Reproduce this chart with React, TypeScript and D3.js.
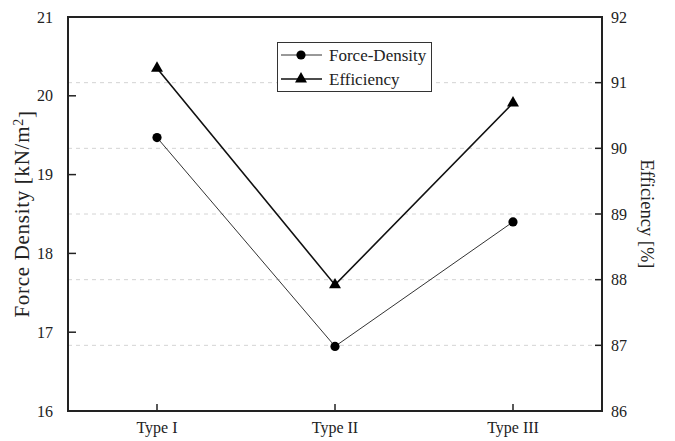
import React from "react";
import * as d3 from "d3";

const categories = ["Type I", "Type II", "Type III"];
const forceDensity = [19.47, 16.82, 18.4];
const efficiency = [91.22, 87.92, 90.69];
const leftTicks = [16, 17, 18, 19, 20, 21];
const rightTicks = [86, 87, 88, 89, 90, 91, 92];

const W = 675, H = 441;
const M = { left: 68, right: 602, top: 17, bottom: 411 };
const FONT = "'Liberation Serif', 'Times New Roman', serif";

export default function App() {
  const x = d3.scalePoint<string>().domain(categories).range([M.left, M.right]).padding(0.5);
  const yL = d3.scaleLinear().domain([16, 21]).range([M.bottom, M.top]);
  const yR = d3.scaleLinear().domain([86, 92]).range([M.bottom, M.top]);

  const lineFD = d3.line<number>().x((_, i) => x(categories[i])!).y((d) => yL(d));
  const lineEff = d3.line<number>().x((_, i) => x(categories[i])!).y((d) => yR(d));
  const tri = d3.symbol().type(d3.symbolTriangle).size(62)();

  return (
    <svg width={W} height={H} style={{ position: "absolute", left: 0, top: 0, background: "#fff" }} fontFamily={FONT}>
      <rect x={0} y={0} width={W} height={H} fill="#fff" />
      {/* gridlines */}
      {rightTicks.slice(1, -1).map((t) => (
        <line key={"g" + t} x1={M.left} x2={M.right} y1={yR(t)} y2={yR(t)} stroke="#d4d4d4" strokeWidth={1} strokeDasharray="4,4" />
      ))}
      {/* left ticks */}
      {leftTicks.map((t) => (
        <g key={"l" + t}>
          {t > 16 && t < 21 && <line x1={M.left} x2={M.left + 8} y1={yL(t)} y2={yL(t)} stroke="#222" strokeWidth={1.5} />}
          <text x={53} y={yL(t)} dy="0.35em" textAnchor="end" fontSize={16} fill="#222">{t}</text>
        </g>
      ))}
      {/* right ticks */}
      {rightTicks.map((t) => (
        <g key={"r" + t}>
          {t > 86 && t < 92 && <line x1={M.right - 7} x2={M.right} y1={yR(t)} y2={yR(t)} stroke="#222" strokeWidth={1.5} />}
          <text x={611} y={yR(t)} dy="0.35em" textAnchor="start" fontSize={16} fill="#222">{t}</text>
        </g>
      ))}
      {/* bottom ticks */}
      {categories.map((c) => (
        <g key={"b" + c}>
          <line x1={x(c)!} x2={x(c)!} y1={M.bottom} y2={M.bottom - 7} stroke="#222" strokeWidth={1.5} />
          <text x={x(c)!} y={433} textAnchor="middle" fontSize={16} fill="#222">{c}</text>
        </g>
      ))}
      {/* frame */}
      <rect x={M.left} y={M.top} width={M.right - M.left} height={M.bottom - M.top} fill="none" stroke="#222" strokeWidth={2} />
      {/* axis titles */}
      <text transform={`translate(22,${(M.top + M.bottom) / 2}) rotate(-90)`} dy="0.35em" textAnchor="middle" fontSize={21} letterSpacing={0.7} fill="#222">
        Force Density [kN/m<tspan dy="-0.45em" fontSize={14}>2</tspan><tspan dy="0.45em">]</tspan>
      </text>
      <text transform={`translate(647,${(M.top + M.bottom) / 2}) rotate(90)`} dy="0.35em" textAnchor="middle" fontSize={18.5} fill="#222">
        Efficiency [%]
      </text>
      {/* series */}
      <path d={lineFD(forceDensity)!} fill="none" stroke="#333" strokeWidth={1} />
      <path d={lineEff(efficiency)!} fill="none" stroke="#111" strokeWidth={1.6} />
      {forceDensity.map((v, i) => (
        <circle key={"c" + i} cx={x(categories[i])!} cy={yL(v)} r={4.6} fill="#000" />
      ))}
      {efficiency.map((v, i) => (
        <path key={"t" + i} d={tri!} transform={`translate(${x(categories[i])!},${yR(v)})`} fill="#000" />
      ))}
      {/* legend */}
      <g>
        <rect x={277.5} y={42.5} width={154} height={49} fill="#fff" stroke="#333" strokeWidth={1} />
        <line x1={281} x2={322} y1={55} y2={55} stroke="#333" strokeWidth={1} />
        <circle cx={301} cy={55} r={4.6} fill="#000" />
        <text x={329} y={55} dy="0.35em" fontSize={17} fill="#222">Force-Density</text>
        <line x1={281} x2={322} y1={79} y2={79} stroke="#111" strokeWidth={1.6} />
        <path d={tri!} transform="translate(301,79)" fill="#000" />
        <text x={329} y={79} dy="0.35em" fontSize={17} fill="#222">Efficiency</text>
      </g>
    </svg>
  );
}
